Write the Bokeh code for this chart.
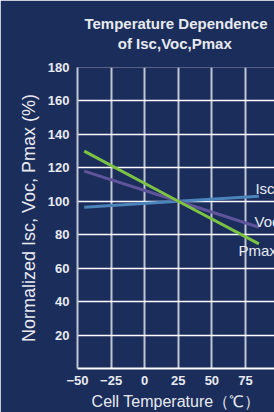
from bokeh.plotting import figure
from bokeh.models import Title, FixedTicker
from bokeh.embed import file_html
from bokeh.resources import INLINE
from bokeh.core.properties import value

# Data
temps = [-45, 25, 85]
isc = [96.5, 100, 103]
voc = [118, 100, 84.5]
pmax = [130, 100, 74.5]
series_names = ["Isc", "Voc", "Pmax"]
x_ticks = [-50, -25, 0, 25, 50, 75, 100]
y_ticks = [20, 40, 60, 80, 100, 120, 140, 160, 180]

BG = "#1b2d5b"
TXT = "#e8eaf0"

p = figure(width=274, height=412, output_backend="svg", toolbar_location=None,
           x_range=(-50, 96.6), y_range=(0, 180),
           min_border_left=77, min_border_top=67, min_border_bottom=44, min_border_right=0)
p.background_fill_color = BG
p.border_fill_color = BG
p.outline_line_color = None

p.xaxis.ticker = FixedTicker(ticks=x_ticks)
p.yaxis.ticker = FixedTicker(ticks=y_ticks)
p.xaxis.major_label_overrides = {-50: "\u221250", -25: "\u221225"}
for ax in (p.xaxis, p.yaxis):
    ax.major_label_text_color = TXT
    ax.major_label_text_font = "Liberation Sans"
    ax.major_label_text_font_style = "bold"
    ax.major_label_text_font_size = "13px"
    ax.major_tick_line_color = None
    ax.minor_tick_line_color = None
p.xaxis.axis_line_color = "white"
p.xaxis.axis_line_width = 2
p.yaxis.axis_line_color = "#c0c6d4"
p.yaxis.axis_line_width = 2
p.yaxis.major_label_standoff = 2
p.xaxis.major_label_standoff = 1

p.yaxis.axis_label = "Normalized Isc, Voc, Pmax (%)"
p.yaxis.axis_label_text_color = TXT
p.yaxis.axis_label_text_font = "Liberation Sans"
p.yaxis.axis_label_text_font_style = "normal"
p.yaxis.axis_label_text_font_size = "18px"
p.yaxis.axis_label_standoff = 6

p.xgrid.grid_line_color = "#c0c6d4"
p.xgrid.grid_line_width = 2
p.ygrid.grid_line_color = "white"
p.ygrid.grid_line_width = 1.5

p.line(temps, isc, line_color="#4a84bb", line_width=3)
p.line(temps, voc, line_color="#5f5499", line_width=3)
p.line(temps, pmax, line_color="#7cc243", line_width=3)

p.text(x=[82.4, 81.7, 69.8], y=[107.5, 88, 70.3], text=series_names,
       text_color=TXT, text_font=value("Liberation Sans"), text_font_size="15px",
       text_baseline="middle", text_align="left")

# Two-line title (second line padded with non-breaking spaces to centre it)
title_lines = ["Temperature Dependence", "\u00a0" * 8 + "of Isc,Voc,Pmax"]
p.add_layout(Title(text="\n".join(title_lines), align="center", offset=6,
                   standoff=28, text_line_height=1.2, vertical_align="top",
                   text_color=TXT, text_font="Liberation Sans", text_font_style="bold",
                   text_font_size="15px"), "above")
p.add_layout(Title(text="Cell Temperature\uff08\u2103\uff09", align="center", offset=12,
                   standoff=6, text_color=TXT, text_font="Liberation Sans",
                   text_font_style="normal", text_font_size="16px"), "below")

html = file_html(p, INLINE)
html = html.replace("<body>", '<body style="background:%s;">' % BG, 1)
open("out.html", "w").write(html)
